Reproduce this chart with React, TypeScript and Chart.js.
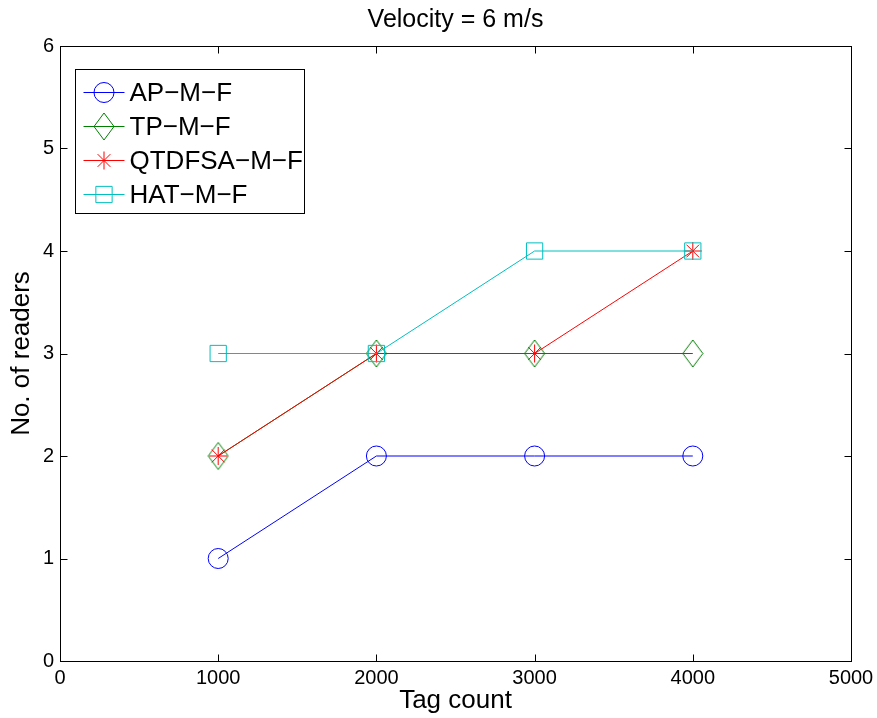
import React, { useEffect, useRef } from 'react';
import { Chart, registerables } from 'chart.js';

Chart.register(...registerables);

const tagCounts = [1000, 2000, 3000, 4000];
const apMF = [1, 2, 2, 2];
const tpMF = [2, 3, 3, 3];
const qtdfsaMF = [2, 3, 3, 4];
const hatMF = [3, 3, 4, 4];
const seriesLabels = ['AP−M−F', 'TP−M−F', 'QTDFSA−M−F', 'HAT−M−F'];
const xTicks = [0, 1000, 2000, 3000, 4000, 5000];
const yTicks = [0, 1, 2, 3, 4, 5, 6];
const chartTitle = 'Velocity = 6 m/s';
const xTitle = 'Tag count';
const yTitle = 'No. of readers';

const FONT = '"Liberation Sans", Arial, Helvetica, sans-serif';
const BLUE = '#0000ff';
const GREEN = '#008000';
const RED = '#ff0000';
const CYAN = '#00bfbf';

function makeDiamond(color: string): HTMLCanvasElement {
  const c = document.createElement('canvas');
  c.width = 22;
  c.height = 29;
  const g = c.getContext('2d')!;
  g.strokeStyle = color;
  g.lineWidth = 1;
  g.beginPath();
  g.moveTo(11, 1);
  g.lineTo(21, 14.5);
  g.lineTo(11, 28);
  g.lineTo(1, 14.5);
  g.closePath();
  g.stroke();
  return c;
}

function drawMarker(ctx: CanvasRenderingContext2D, style: any, x: number, y: number, r: number, color: string) {
  ctx.save();
  ctx.strokeStyle = color;
  ctx.lineWidth = 1;
  ctx.beginPath();
  if (style === 'circle') {
    ctx.arc(x, y, r, 0, Math.PI * 2);
  } else if (style === 'rect') {
    const s = Math.SQRT1_2 * r;
    ctx.rect(x - s, y - s, 2 * s, 2 * s);
  } else if (style === 'star') {
    ctx.moveTo(x - r, y);
    ctx.lineTo(x + r, y);
    ctx.moveTo(x, y - r);
    ctx.lineTo(x, y + r);
    const d = r * Math.SQRT1_2;
    ctx.moveTo(x - d, y - d);
    ctx.lineTo(x + d, y + d);
    ctx.moveTo(x - d, y + d);
    ctx.lineTo(x + d, y - d);
  } else if (style instanceof HTMLCanvasElement) {
    ctx.drawImage(style, x - style.width / 2, y - style.height / 2);
  }
  ctx.stroke();
  ctx.restore();
}

const framePlugin = {
  id: 'matlabFrame',
  afterDatasetsDraw(chart: any) {
    const { ctx, chartArea: a, scales } = chart;
    ctx.save();
    ctx.strokeStyle = '#000';
    ctx.lineWidth = 1;
    const L = Math.round(a.left) + 0.5;
    const R = Math.round(a.right) + 0.5;
    const T = Math.round(a.top) + 0.5;
    const B = Math.round(a.bottom) + 0.5;
    ctx.strokeRect(L, T, R - L, B - T);
    const len = 7;
    ctx.beginPath();
    for (const v of xTicks) {
      const x = Math.round(scales.x.getPixelForValue(v)) + 0.5;
      ctx.moveTo(x, B);
      ctx.lineTo(x, B - len);
      ctx.moveTo(x, T);
      ctx.lineTo(x, T + len);
    }
    for (const v of yTicks) {
      const y = Math.round(scales.y.getPixelForValue(v)) + 0.5;
      ctx.moveTo(L, y);
      ctx.lineTo(L + len, y);
      ctx.moveTo(R, y);
      ctx.lineTo(R - len, y);
    }
    ctx.stroke();
    ctx.restore();
  },
};

const legendPlugin = {
  id: 'matlabLegend',
  afterDraw(chart: any) {
    const { ctx, chartArea: a } = chart;
    const bx = Math.round(a.left) + 15.5;
    const by = Math.round(a.top) + 23.5;
    const bw = 229;
    const bh = 144;
    ctx.save();
    ctx.fillStyle = '#fff';
    ctx.fillRect(bx, by, bw, bh);
    ctx.strokeStyle = '#000';
    ctx.lineWidth = 1;
    ctx.strokeRect(bx, by, bw, bh);
    ctx.font = `26px ${FONT}`;
    ctx.textBaseline = 'middle';
    ctx.textAlign = 'left';
    const items = [0, 1, 2, 3].map((i) => chart.data.datasets[i]);
    items.forEach((ds: any, i: number) => {
      const cy = Math.round(by + 22 + i * 34.3) + 0.5;
      ctx.strokeStyle = ds.borderColor;
      ctx.lineWidth = 1;
      ctx.beginPath();
      ctx.moveTo(bx + 8, cy);
      ctx.lineTo(bx + 49, cy);
      ctx.stroke();
      drawMarker(ctx, ds.pointStyle, bx + 28.5, cy, ds.pointRadius, ds.borderColor);
      ctx.fillStyle = '#000';
      ctx.fillText(ds.label, bx + 54, cy + 1);
    });
    ctx.restore();
  },
};

function toPoints(ys: number[]) {
  return tagCounts.map((x, i) => ({ x, y: ys[i] }));
}

export default function App() {
  const ref = useRef<HTMLCanvasElement | null>(null);

  useEffect(() => {
    document.body.style.margin = '0';
    const canvas = ref.current!;
    const diamond = makeDiamond(GREEN);
    const mk = (label: string, ys: number[], color: string, style: any, radius: number, order: number) => ({
      label,
      data: toPoints(ys),
      order,
      borderColor: color,
      backgroundColor: 'rgba(0,0,0,0)',
      borderWidth: 1,
      pointStyle: style,
      pointRadius: radius,
      pointBorderWidth: 1,
      pointBorderColor: color,
      pointBackgroundColor: 'rgba(0,0,0,0)',
      pointHoverRadius: radius,
      tension: 0,
      fill: false,
      clip: false,
    });
    const tickFmt = (v: any) => String(v);
    const chart = new Chart(canvas, {
      type: 'line',
      data: {
        datasets: [
          mk(seriesLabels[0], apMF, BLUE, 'circle', 10, 3),
          mk(seriesLabels[1], tpMF, GREEN, diamond, 10, 2),
          mk(seriesLabels[2], qtdfsaMF, RED, 'star', 9, 1),
          mk(seriesLabels[3], hatMF, CYAN, 'rect', 11.5, 0),
        ],
      },
      options: {
        responsive: false,
        animation: false,
        events: [],
        layout: { padding: { left: 0, right: 26, top: 0, bottom: 0 } },
        plugins: {
          legend: { display: false },
          tooltip: { enabled: false },
          title: {
            display: true,
            text: chartTitle,
            color: '#000',
            fullSize: false,
            font: { family: FONT, size: 25, weight: 'normal', lineHeight: 1.2 },
            padding: { top: 5, bottom: 11 },
          },
        },
        scales: {
          x: {
            type: 'linear',
            min: 0,
            max: 5000,
            afterBuildTicks: (s: any) => {
              s.ticks = xTicks.map((v) => ({ value: v }));
            },
            ticks: {
              color: '#000',
              font: { family: FONT, size: 20 },
              padding: 5,
              maxRotation: 0,
              autoSkip: false,
              callback: tickFmt,
            },
            grid: { display: false, drawTicks: false },
            border: { display: false },
            title: {
              display: true,
              text: xTitle,
              color: '#000',
              font: { family: FONT, size: 26, lineHeight: 1.2 },
              padding: { top: 0, bottom: 2 },
            },
            afterFit: (s: any) => {
              s.height = 57;
              s.paddingLeft = 0;
              s.paddingRight = 0;
            },
          },
          y: {
            type: 'linear',
            min: 0,
            max: 6,
            afterBuildTicks: (s: any) => {
              s.ticks = yTicks.map((v) => ({ value: v }));
            },
            ticks: {
              color: '#000',
              font: { family: FONT, size: 20 },
              padding: 6,
              autoSkip: false,
              callback: tickFmt,
            },
            grid: { display: false, drawTicks: false },
            border: { display: false },
            title: {
              display: true,
              text: yTitle,
              color: '#000',
              font: { family: FONT, size: 26, lineHeight: 1.2 },
              padding: { top: 6, bottom: 0 },
            },
            afterFit: (s: any) => {
              s.width = 60;
              s.paddingTop = 0;
              s.paddingBottom = 0;
            },
          },
        },
      },
      plugins: [framePlugin, legendPlugin],
    } as any);
    return () => chart.destroy();
  }, []);

  return (
    <div style={{ position: 'fixed', left: 0, top: 0, width: 877, height: 718, background: '#fff' }}>
      <canvas ref={ref} width={877} height={718} style={{ display: 'block', width: 877, height: 718 }} />
    </div>
  );
}
